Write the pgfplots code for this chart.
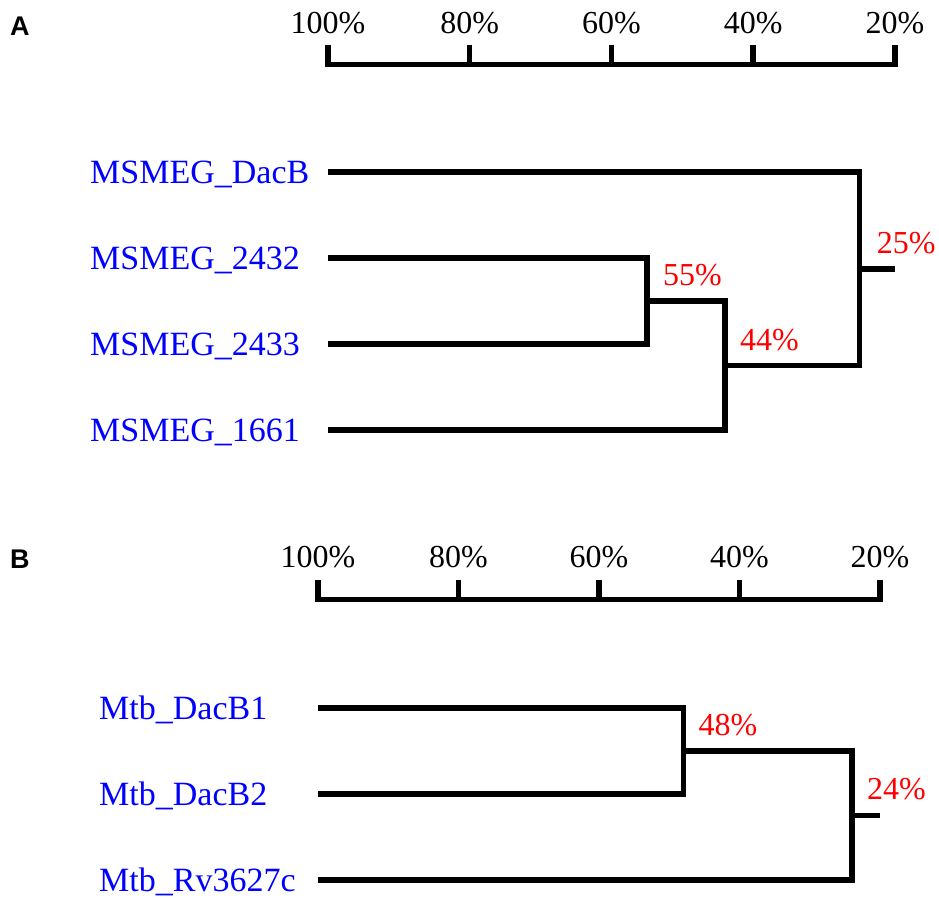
\documentclass[border=0pt]{standalone}
\usepackage{pgfplots}
\pgfplotsset{compat=1.18}
\usepackage{fontspec}
\setmainfont{Liberation Serif}
\newfontfamily\arialfont{Liberation Sans}
\newcommand{\lbl}{\fontsize{34}{40}\selectfont}
\newcommand{\pctf}{\rmfamily\fontsize{32}{38}\selectfont}
\newcommand{\panf}{\arialfont\bfseries\fontsize{27}{32}\selectfont}
\pgfplotsset{dl/.style={black, line width=5.5pt, line join=miter, line cap=butt, mark=none}}
\begin{document}
\begin{tikzpicture}
\useasboundingbox (0pt,0pt) rectangle (939pt,-898pt);
\node[anchor=base west, inner sep=0pt, font=\panf] at (10pt,-35pt) {A};
\node[anchor=base west, inner sep=0pt, font=\panf] at (10pt,-568pt) {B};
% ---------------- Panel A ----------------
\begin{axis}[
  at={(328pt,-43pt)}, anchor=north west,
  scale only axis, width=567pt, height=430pt,
  xmin=20, xmax=100, ymin=-0.5, ymax=4.5,
  x dir=reverse, y dir=reverse,
  hide axis, clip=false,
]
% scale bar
\addplot[dl] coordinates {(100,-0.48) (100,-0.25) (20,-0.25) (20,-0.48)};
\addplot[dl] coordinates {(80,-0.48) (80,-0.25)};
\addplot[dl] coordinates {(60,-0.48) (60,-0.25)};
\addplot[dl] coordinates {(40,-0.48) (40,-0.25)};
\foreach \p in {100,80,60,40,20} {
  \edef\tmp{\noexpand\node[anchor=base, inner sep=0pt, font=\noexpand\pctf] at (axis cs:\p,-0.25) [yshift=31pt] {\p\noexpand\%};}
  \tmp
}
% dendrogram
\addplot[dl] coordinates {(100,2) (55,2) (55,3) (100,3)};
\addplot[dl] coordinates {(55,2.5) (44,2.5) (44,4) (100,4)};
\addplot[dl] coordinates {(100,1) (25,1) (25,3.25) (44,3.25)};
\addplot[dl] coordinates {(25,2.125) (20,2.125)};
% node labels
\node[anchor=base west, inner sep=0pt, text=red, font=\pctf] at (axis cs:55,2.5) [xshift=16pt, yshift=16pt] {55\%};
\node[anchor=base west, inner sep=0pt, text=red, font=\pctf] at (axis cs:44,3.25) [xshift=15pt, yshift=15pt] {44\%};
\node[anchor=base west, inner sep=0pt, text=red, font=\pctf] at (axis cs:25,2.125) [xshift=17pt, yshift=15pt] {25\%};
% leaf labels
\node[anchor=base west, inner sep=0pt, text=blue, font=\lbl] at (axis cs:100,1) [xshift=-238pt, yshift=-11pt] {MSMEG\_DacB};
\node[anchor=base west, inner sep=0pt, text=blue, font=\lbl] at (axis cs:100,2) [xshift=-238pt, yshift=-11pt] {MSMEG\_2432};
\node[anchor=base west, inner sep=0pt, text=blue, font=\lbl] at (axis cs:100,3) [xshift=-238pt, yshift=-11pt] {MSMEG\_2433};
\node[anchor=base west, inner sep=0pt, text=blue, font=\lbl] at (axis cs:100,4) [xshift=-238pt, yshift=-11pt] {MSMEG\_1661};
\end{axis}
% ---------------- Panel B ----------------
\begin{axis}[
  at={(318pt,-579pt)}, anchor=north west,
  scale only axis, width=562pt, height=318.2pt,
  xmin=20, xmax=100, ymin=-0.5, ymax=3.2,
  x dir=reverse, y dir=reverse,
  hide axis, clip=false,
]
\addplot[dl] coordinates {(100,-0.49) (100,-0.26) (20,-0.26) (20,-0.49)};
\addplot[dl] coordinates {(80,-0.49) (80,-0.26)};
\addplot[dl] coordinates {(60,-0.49) (60,-0.26)};
\addplot[dl] coordinates {(40,-0.49) (40,-0.26)};
\foreach \p in {100,80,60,40,20} {
  \edef\tmp{\noexpand\node[anchor=base, inner sep=0pt, font=\noexpand\pctf] at (axis cs:\p,-0.26) [yshift=32pt] {\p\noexpand\%};}
  \tmp
}
\addplot[dl] coordinates {(100,1) (48,1) (48,2) (100,2)};
\addplot[dl] coordinates {(48,1.5) (24,1.5) (24,3) (100,3)};
\addplot[dl] coordinates {(24,2.25) (20,2.25)};
\node[anchor=base west, inner sep=0pt, text=red, font=\pctf] at (axis cs:48,1.5) [xshift=15pt, yshift=16pt] {48\%};
\node[anchor=base west, inner sep=0pt, text=red, font=\pctf] at (axis cs:24,2.25) [xshift=15pt, yshift=16pt] {24\%};
\node[anchor=base west, inner sep=0pt, text=blue, font=\lbl] at (axis cs:100,1) [xshift=-219pt, yshift=-11pt] {Mtb\_DacB1};
\node[anchor=base west, inner sep=0pt, text=blue, font=\lbl] at (axis cs:100,2) [xshift=-219pt, yshift=-11pt] {Mtb\_DacB2};
\node[anchor=base west, inner sep=0pt, text=blue, font=\lbl] at (axis cs:100,3) [xshift=-219pt, yshift=-11pt] {Mtb\_Rv3627c};
\end{axis}
\end{tikzpicture}
\end{document}
